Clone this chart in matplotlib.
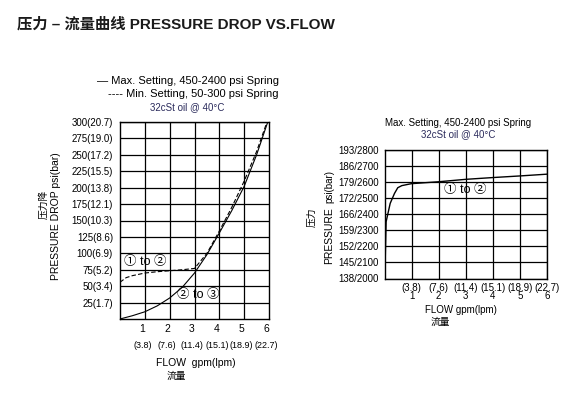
import numpy as np
import matplotlib.pyplot as plt

plt.rcParams['font.family'] = ['Liberation Sans', 'Noto Sans CJK SC', 'DejaVu Sans']

# left chart: pressure drop vs flow
flow_max = [0, 0.5, 1, 1.5, 2, 2.5, 3, 3.5, 4, 4.5, 5, 5.5, 5.95]
psi_max = [0, 5, 11, 20, 32, 48, 70, 98, 131, 165, 202, 250, 300]
flow_min = [0, 0.25, 0.5, 1, 1.5, 2, 2.5, 3, 3.5, 4, 4.5, 5, 5.5, 5.9]
psi_min = [56, 63, 66, 70, 72, 73.5, 75, 77, 100, 134, 170, 210, 255, 298]
left_yticks = [25, 50, 75, 100, 125, 150, 175, 200, 225, 250, 275, 300]
left_ylabels = ['25(1.7)', '50(3.4)', '75(5.2)', '100(6.9)', '125(8.6)', '150(10.3)',
                '175(12.1)', '200(13.8)', '225(15.5)', '250(17.2)', '275(19.0)', '300(20.7)']
gpm = [1, 2, 3, 4, 5, 6]
lpm = ['(3.8)', '(7.6)', '(11.4)', '(15.1)', '(18.9)', '(22.7)']

# right chart: max setting curve
flow_r = [0, 0.01, 0.06, 0.21, 0.37, 0.49, 0.64, 0.99, 2.0, 3.0, 4.0, 5.0, 6.0]
psi_r = [2000, 2000, 2352, 2466, 2528, 2563, 2576, 2588, 2600, 2615, 2626, 2636, 2647]
right_yticks = [2000, 2100, 2200, 2300, 2400, 2500, 2600, 2700, 2800]
right_ylabels = ['138/2000', '145/2100', '152/2200', '159/2300', '166/2400',
                 '172/2500', '179/2600', '186/2700', '193/2800']

W, H = 573, 395
fig = plt.figure(figsize=(W / 100, H / 100), dpi=100)


def px(x, y):
    return x / W, 1 - y / H


def box(ax):
    for s in ax.spines.values():
        s.set_linewidth(1.0)
    ax.grid(True, color='black', linewidth=0.9)
    ax.tick_params(length=0, labelsize=7)


fig.text(*px(17, 24), '压力 – 流量曲线 PRESSURE DROP VS.FLOW', fontsize=11,
         fontweight='bold', va='center', ha='left', color='#1a1a1a')

# ---- left
ax1 = fig.add_axes([120 / W, 1 - 319 / H, 149 / W, 197 / H])
ax1.plot(flow_max, psi_max, color='black', linewidth=0.8)
ax1.plot(flow_min, psi_min, color='black', linewidth=0.8, dashes=(4, 2))
ax1.set_xlim(0, 6)
ax1.set_ylim(0, 300)
ax1.set_xticks(gpm[:-1])
ax1.set_xticklabels([])
ax1.set_yticks(left_yticks)
ax1.set_yticklabels(left_ylabels)
box(ax1)
ax1.tick_params(axis='y', pad=5)
for g, l in zip(gpm, lpm):
    ax1.text(g - 0.1, -15, str(g), ha='center', va='center', fontsize=7.5)
    ax1.text(g - 0.1, -41, l, ha='center', va='center', fontsize=6.5)
ax1.text(0.15, 87, '① to ②', ha='left', va='center', fontsize=9)
ax1.text(2.3, 36, '② to ③', ha='left', va='center', fontsize=9)

fig.text(*px(279, 81), '— Max. Setting, 450-2400 psi Spring', ha='right', va='center', fontsize=8)
fig.text(*px(279, 94), '---- Min. Setting, 50-300 psi Spring', ha='right', va='center', fontsize=8)
fig.text(*px(187, 107), '32cSt oil @ 40°C', ha='center', va='center', fontsize=7, color='#2b2b5c')
fig.text(*px(44, 204), '压力降', rotation=90, ha='center', va='center', fontsize=7)
fig.text(*px(56, 216), 'PRESSURE DROP psi(bar)', rotation=90, ha='center', va='center', fontsize=7.5)
fig.text(*px(196, 363), 'FLOW  gpm(lpm)', ha='center', va='center', fontsize=7.5)
fig.text(*px(176, 376), '流量', ha='center', va='center', fontsize=7)

# ---- right
ax2 = fig.add_axes([384.5 / W, 1 - 278.5 / H, 162.5 / W, 129 / H])
ax2.plot(flow_r, psi_r, color='black', linewidth=1.0)
ax2.set_xlim(0, 6)
ax2.set_ylim(2000, 2800)
ax2.set_xticks(gpm)
ax2.set_xticklabels([l + '\n' + str(g) for g, l in zip(gpm, lpm)], linespacing=0.85)
ax2.set_yticks(right_yticks)
ax2.set_yticklabels(right_ylabels)
box(ax2)
ax2.tick_params(axis='x', pad=3)
ax2.tick_params(axis='y', pad=4)
ax2.text(2.2, 2549, '① to ②', ha='left', va='center', fontsize=9)

fig.text(*px(458, 123), 'Max. Setting, 450-2400 psi Spring', ha='center', va='center', fontsize=7)
fig.text(*px(458, 134), '32cSt oil @ 40°C', ha='center', va='center', fontsize=7, color='#2b2b5c')
fig.text(*px(312, 217), '压力', rotation=90, ha='center', va='center', fontsize=7)
fig.text(*px(329, 236), 'PRESSURE', rotation=90, ha='center', va='center', fontsize=7.5)
fig.text(*px(329, 186), 'psi(bar)', rotation=90, ha='center', va='center', fontsize=7)
fig.text(*px(461, 310), 'FLOW gpm(lpm)', ha='center', va='center', fontsize=7)
fig.text(*px(440, 322), '流量', ha='center', va='center', fontsize=7)

fig.savefig('out.png', dpi=100)
